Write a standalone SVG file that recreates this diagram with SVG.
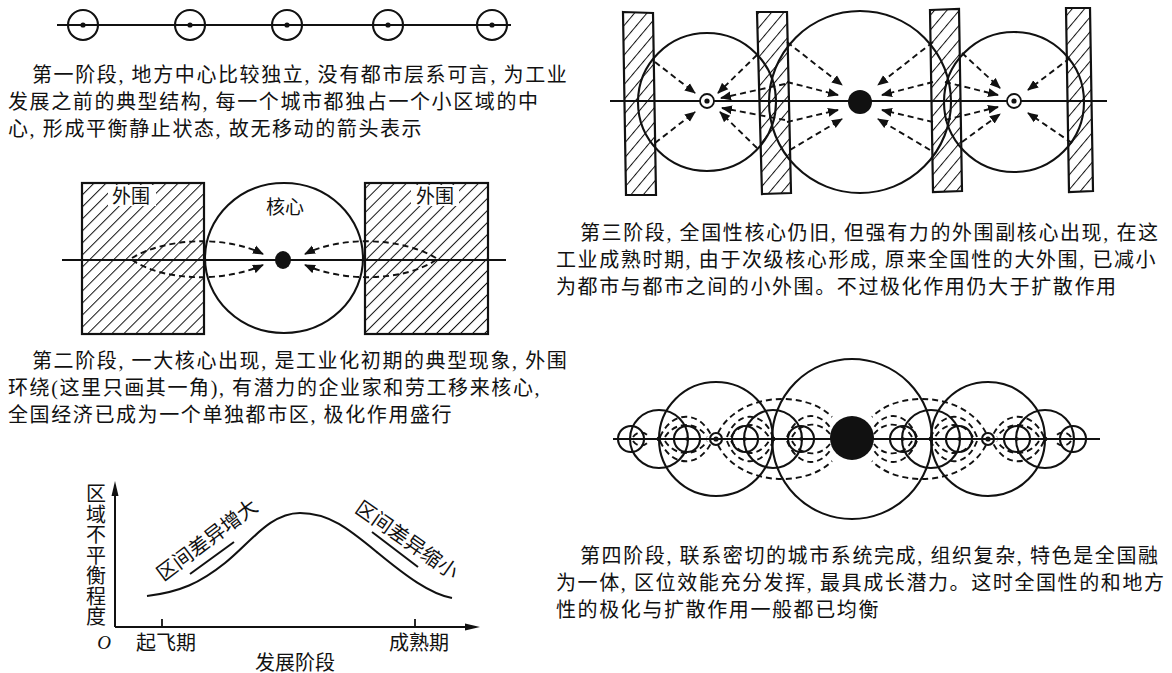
<svg xmlns="http://www.w3.org/2000/svg" width="1172" height="673" viewBox="0 0 1172 673">
<defs>
<style>
.p{font-family:"Liberation Serif","Noto Sans CJK SC",serif;font-size:20px;letter-spacing:1.6px;fill:#111}
.l{font-family:"Liberation Serif","Noto Sans CJK SC",serif;font-size:19px;fill:#111}
.s{fill:none;stroke:#111;stroke-width:2.1}
.d{fill:none;stroke:#111;stroke-width:1.9;stroke-dasharray:6 4}
.k{fill:#111}
</style>
<pattern id="h1" width="8.5" height="8.5" patternUnits="userSpaceOnUse" patternTransform="rotate(45)"><line x1="0" y1="-1" x2="0" y2="10" stroke="#111" stroke-width="2"/></pattern>
<pattern id="h2" width="9.5" height="9.5" patternUnits="userSpaceOnUse" patternTransform="rotate(40)"><line x1="0" y1="-1" x2="0" y2="11" stroke="#111" stroke-width="2"/></pattern>
<marker id="a" markerUnits="userSpaceOnUse" markerWidth="11" markerHeight="10" viewBox="0 0 11 10" refX="10" refY="5" orient="auto"><path d="M0,0.5 L11,5 L0,9.5 z" fill="#111"/></marker>
<g id="s4half">
<circle class="s" cx="716" cy="439" r="57"/>
<circle class="s" cx="659" cy="439" r="29"/>
<circle class="s" cx="773" cy="439" r="29"/>
<circle class="s" cx="631" cy="439" r="13"/>
<circle class="s" cx="687" cy="439" r="13"/>
<circle class="s" cx="745" cy="439" r="13"/>
<circle class="s" cx="801" cy="439" r="13"/>
<circle class="s" cx="716" cy="439" r="6"/>
<circle class="k" cx="716" cy="439" r="2.6"/>
<circle class="k" cx="659" cy="439" r="2.4"/>
<circle class="k" cx="773" cy="439" r="2.4"/>
<circle class="k" cx="745" cy="439" r="1.8"/>
<circle class="k" cx="687" cy="439" r="1.8"/>
<circle class="k" cx="801" cy="439" r="1.8"/>
<path class="d" d="M660,437 C672,410 700,410 712,437 M660,441 C672,468 700,468 712,441"/>
<path class="d" d="M665,437 C675,421 697,421 707,437 M665,441 C675,457 697,457 707,441"/>
<path class="d" d="M727,437 C737,410 763,410 773,437 M727,441 C737,468 763,468 773,441"/>
<path class="d" d="M731,437 C741,421 759,421 769,437 M731,441 C741,457 759,457 769,441"/>
<path class="d" d="M787,437 C798,410 820,411 831,429 M787,441 C798,468 820,467 831,449"/>
<path class="d" d="M792,437 C801,421 820,421 830,434 M792,441 C801,457 820,457 830,444"/>
<path class="d" d="M718,433 C738,393 805,389 832,417 M718,445 C738,485 805,489 832,461"/>
<path class="d" d="M633,437 C637,431 645,431 649,437 M633,441 C637,447 645,447 649,441"/>
</g>
</defs>
<rect width="1172" height="673" fill="#fff"/>

<g id="stage1">
<line x1="57" y1="25" x2="511" y2="25" stroke="#111" stroke-width="2.2"/>
<circle class="s" cx="83" cy="25" r="15"/><circle class="k" cx="83" cy="25" r="2.6"/>
<circle class="s" cx="190" cy="25" r="15"/><circle class="k" cx="190" cy="25" r="2.6"/>
<circle class="s" cx="287" cy="25" r="15"/><circle class="k" cx="287" cy="25" r="2.6"/>
<circle class="s" cx="388" cy="25" r="15"/><circle class="k" cx="388" cy="25" r="2.6"/>
<circle class="s" cx="492" cy="25" r="15"/><circle class="k" cx="492" cy="25" r="2.6"/>
</g>
<g id="text1">
<text class="p" x="32" y="82">第一阶段, 地方中心比较独立, 没有都市层系可言, 为工业</text>
<text class="p" x="8" y="109">发展之前的典型结构, 每一个城市都独占一个小区域的中</text>
<text class="p" x="8" y="136">心, 形成平衡静止状态, 故无移动的箭头表示</text>
</g>

<g id="stage2">
<rect x="82" y="183" width="122" height="151" fill="url(#h1)" stroke="#111" stroke-width="2.2"/>
<rect x="365" y="183" width="123" height="151" fill="url(#h1)" stroke="#111" stroke-width="2.2"/>
<rect x="108" y="185" width="48" height="21" fill="#fff"/>
<rect x="411" y="185" width="48" height="21" fill="#fff"/>
<ellipse class="s" cx="284" cy="258" rx="79" ry="75"/>
<line x1="62" y1="260" x2="506" y2="260" stroke="#111" stroke-width="2"/>
<ellipse class="k" cx="283" cy="260" rx="8" ry="9"/>
<text class="l" x="131" y="203" text-anchor="middle">外围</text>
<text class="l" x="435" y="203" text-anchor="middle">外围</text>
<text class="l" x="285" y="214" text-anchor="middle">核心</text>
</g>
<g id="stage2-connectors">
<path class="d" d="M132,258 C165,238 225,235 263,254" marker-end="url(#a)"/>
<path class="d" d="M132,260 C165,282 225,282 263,265" marker-end="url(#a)"/>
<path class="d" d="M436,258 C403,238 343,235 305,254" marker-end="url(#a)"/>
<path class="d" d="M436,260 C403,282 343,282 305,265" marker-end="url(#a)"/>
</g>
<g id="text2">
<text class="p" x="32" y="368">第二阶段, 一大核心出现, 是工业化初期的典型现象, 外围</text>
<text class="p" x="8" y="395">环绕(这里只画其一角), 有潜力的企业家和劳工移来核心,</text>
<text class="p" x="8" y="422">全国经济已成为一个单独都市区, 极化作用盛行</text>
</g>

<g id="stage3">
<polygon points="623,12 653,13 656,195 626,195" fill="url(#h2)" stroke="#111" stroke-width="2.2"/>
<polygon points="757,12 787,12 791,193 762,194" fill="url(#h2)" stroke="#111" stroke-width="2.2"/>
<polygon points="930,10 959,9 962,191 933,192" fill="url(#h2)" stroke="#111" stroke-width="2.2"/>
<polygon points="1066,8 1090,8 1093,191 1069,192" fill="url(#h2)" stroke="#111" stroke-width="2.2"/>
<circle class="s" cx="707" cy="102" r="69"/>
<circle class="s" cx="860" cy="102" r="91"/>
<circle class="s" cx="1014" cy="102" r="70"/>
<line x1="610" y1="101" x2="1107" y2="101" stroke="#111" stroke-width="2"/>
<circle cx="707" cy="101" r="7" fill="#fff" stroke="#111" stroke-width="1.8"/>
<circle class="k" cx="707" cy="101" r="2.6"/>
<circle cx="1014" cy="101" r="7" fill="#fff" stroke="#111" stroke-width="1.8"/>
<circle class="k" cx="1014" cy="101" r="2.6"/>
<circle class="k" cx="860" cy="102" r="12"/>
</g>
<g id="stage3-connectors">
<path class="d" d="M787,42 L842,85" marker-end="url(#a)"/>
<path class="d" d="M787,82 L838,95" marker-end="url(#a)"/>
<path class="d" d="M787,122 L838,110" marker-end="url(#a)"/>
<path class="d" d="M790,150 L842,119" marker-end="url(#a)"/>
<path class="d" d="M933,42 L878,85" marker-end="url(#a)"/>
<path class="d" d="M933,82 L882,95" marker-end="url(#a)"/>
<path class="d" d="M933,122 L882,110" marker-end="url(#a)"/>
<path class="d" d="M930,150 L878,119" marker-end="url(#a)"/>
<path class="d" d="M655,62 L695,93" marker-end="url(#a)"/>
<path class="d" d="M655,143 L695,112" marker-end="url(#a)"/>
<path class="d" d="M757,55 L718,93" marker-end="url(#a)"/>
<path class="d" d="M785,84 L721,98" marker-end="url(#a)"/>
<path class="d" d="M785,120 L722,108" marker-end="url(#a)"/>
<path class="d" d="M757,148 L720,112" marker-end="url(#a)"/>
<path class="d" d="M962,53 L1000,88" marker-end="url(#a)"/>
<path class="d" d="M945,82 L998,95" marker-end="url(#a)"/>
<path class="d" d="M945,120 L998,107" marker-end="url(#a)"/>
<path class="d" d="M962,142 L1000,114" marker-end="url(#a)"/>
<path class="d" d="M1070,58 L1028,90" marker-end="url(#a)"/>
<path class="d" d="M1072,143 L1028,113" marker-end="url(#a)"/>
</g>
<g id="text3">
<text class="p" x="580" y="240">第三阶段, 全国性核心仍旧, 但强有力的外围副核心出现, 在这</text>
<text class="p" x="556" y="267">工业成熟时期, 由于次级核心形成, 原来全国性的大外围, 已减小</text>
<text class="p" x="556" y="294">为都市与都市之间的小外围。不过极化作用仍大于扩散作用</text>
</g>

<g id="stage4">
<line x1="613" y1="439" x2="1100" y2="439" stroke="#111" stroke-width="2"/>
<use href="#s4half"/>
<use href="#s4half" transform="matrix(-1 0 0 1 1704 0)"/>
<circle class="s" cx="852" cy="439" r="80"/>
<circle class="k" cx="852" cy="438" r="22"/>
</g>
<g id="text4">
<text class="p" x="580" y="563">第四阶段, 联系密切的城市系统完成, 组织复杂, 特色是全国融</text>
<text class="p" x="556" y="590">为一体, 区位效能充分发挥, 最具成长潜力。这时全国性的和地方</text>
<text class="p" x="556" y="617">性的极化与扩散作用一般都已均衡</text>
</g>

<g id="graph">
<line x1="115" y1="627" x2="115" y2="490" stroke="#111" stroke-width="2"/>
<path d="M115,481 L111.5,496 L118.5,496 z" class="k"/>
<line x1="115" y1="627" x2="470" y2="627" stroke="#111" stroke-width="2"/>
<path d="M480,627 L465,623.5 L465,630.5 z" class="k"/>
<line x1="162" y1="627" x2="162" y2="619" stroke="#111" stroke-width="1.8"/>
<line x1="415" y1="627" x2="415" y2="619" stroke="#111" stroke-width="1.8"/>
<path class="s" d="M147,596 C180,592 200,583 225,563 S270,513 300,513 S350,530 378,553 S430,594 452,598"/>
<line x1="190" y1="574" x2="234" y2="542" stroke="#111" stroke-width="2"/>
<line x1="372" y1="532" x2="418" y2="567" stroke="#111" stroke-width="2"/>
<text class="l" transform="translate(207,540) rotate(-37)" x="0" y="7" text-anchor="middle" style="font-size:20px">区间差异增大</text>
<text class="l" transform="translate(407,540) rotate(35)" x="0" y="7" text-anchor="middle" style="font-size:20px">区间差异缩小</text>
<text class="l" text-anchor="middle" style="font-size:20px"><tspan x="96" y="501">区</tspan><tspan x="96" y="521.5">域</tspan><tspan x="96" y="542">不</tspan><tspan x="96" y="562.5">平</tspan><tspan x="96" y="583">衡</tspan><tspan x="96" y="603.5">程</tspan><tspan x="96" y="624">度</tspan></text>
<text x="104" y="649" text-anchor="middle" style="font-family:'Liberation Serif',serif;font-style:italic;font-size:19px;fill:#111">O</text>
<text class="l" x="166" y="650" text-anchor="middle" style="font-size:20px">起飞期</text>
<text class="l" x="419" y="650" text-anchor="middle" style="font-size:20px">成熟期</text>
<text class="l" x="295" y="670" text-anchor="middle" style="font-size:20px">发展阶段</text>
</g>
</svg>
